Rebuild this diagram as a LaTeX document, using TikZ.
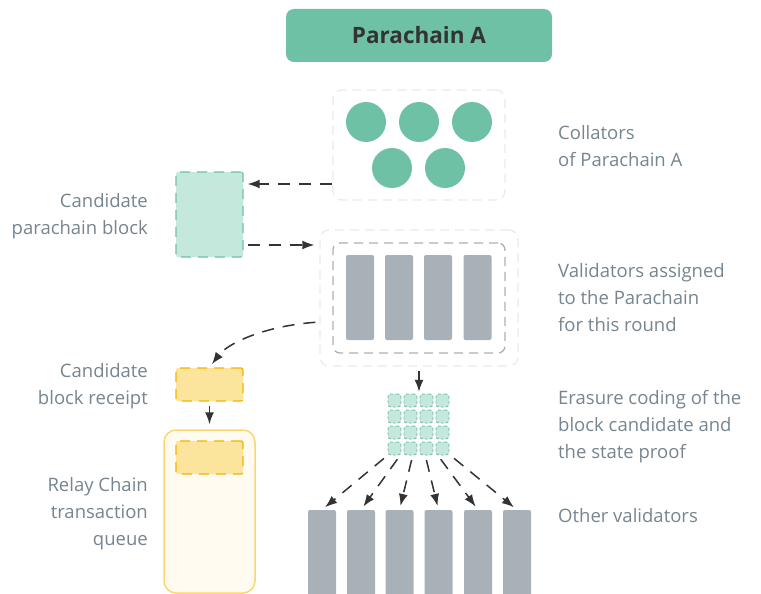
\documentclass[tikz,border=0pt]{standalone}
\usepackage{fontspec}
\setmainfont{Open Sans}
\usetikzlibrary{arrows.meta,calc}
\definecolor{paragreen}{HTML}{6FC1A6}
\definecolor{palegreen}{HTML}{C5E8DC}
\definecolor{bargrey}{HTML}{A9B1B8}
\definecolor{framegrey}{HTML}{E9EBED}
\definecolor{arrowgrey}{HTML}{333333}
\definecolor{labelgrey}{HTML}{76858F}
\definecolor{receiptfill}{HTML}{FBE49B}
\definecolor{receiptline}{HTML}{F4B400}
\definecolor{queuefill}{HTML}{FFFBF0}
\definecolor{queueline}{HTML}{FCD66E}
\tikzset{
  lbl/.style={font=\fontsize{18.5}{27}\selectfont, text=labelgrey, inner sep=0pt},
  flow/.style={draw=arrowgrey, line width=1.5pt, dash pattern=on 12pt off 9pt, -{Latex[length=12pt,width=9pt]}},
  frame/.style={draw=framegrey, line width=1.3pt, dash pattern=on 9pt off 6pt, rounded corners=9pt, inner sep=0pt},
  bar/.style={fill=bargrey, rounded corners=2pt, minimum width=28pt, minimum height=85pt, inner sep=0pt},
  collator/.style={circle, fill=paragreen, minimum size=40pt, inner sep=0pt},
  receiptbox/.style={fill=receiptfill, draw=receiptline, line width=1.3pt, dash pattern=on 10pt off 7pt, rounded corners=2pt, minimum width=67pt, minimum height=33pt, inner sep=0pt},
  piece/.style={fill=palegreen, draw=paragreen, line width=0.9pt, dash pattern=on 3pt off 2pt, rounded corners=3pt, minimum size=13pt, inner sep=0pt}
}
\begin{document}
\begin{tikzpicture}[x=1pt,y=-1pt]
\useasboundingbox[fill=white] (0,0) rectangle (761,594);
\node[fill=paragreen, rounded corners=8pt, minimum width=266pt, minimum height=53pt, text=arrowgrey, font=\fontsize{22.5}{26}\selectfont\bfseries] (title) at (419,35.5) {Parachain A};
\node[frame, minimum width=172pt, minimum height=110pt] (collators) at (419,145) {};
\foreach \x/\y [count=\i] in {366/122, 419/122, 472/122, 392/168, 445/168}
   \node[collator] (col\i) at (\x,\y) {};
\node[fill=palegreen, draw=paragreen, line width=1.3pt, dash pattern=on 10pt off 7pt, rounded corners=2pt, minimum width=67pt, minimum height=85pt, inner sep=0pt] (cand) at (209.5,214.5) {};
\node[frame, minimum width=198pt, minimum height=136pt] (valout) at (419,298) {};
\node[frame, draw=bargrey, rounded corners=7pt, minimum width=172pt, minimum height=110pt] (valin) at (419,298) {};
\foreach \x [count=\i] in {360,399,438,477.5}
   \node[bar] (bar\i) at (\x,297.5) {};
\coordinate (c1) at ([yshift=30.5pt]cand.east);
\coordinate (c2) at ([yshift=-30.5pt]cand.east);
\coordinate (c3) at ([yshift=-24pt]valout.west);
\draw[flow, shorten >=4pt] (collators.west |- c1) -- (c1);
\draw[flow, shorten <=4pt, shorten >=5pt] (c2) -- (valout.west |- c2);
\node[receiptbox] (receipt) at (209.5,384.5) {};
\draw[flow, shorten <=4pt, shorten >=4pt] (c3) .. controls (265,326) and (228,343) .. (receipt.north);
\node[fill=queuefill, draw=queueline, line width=1.5pt, rounded corners=12pt, minimum width=91pt, minimum height=163pt] (queue) at (209.5,511.5) {};
\node[receiptbox] (queued) at (209.5,457.5) {};
\draw[flow, shorten <=4pt, shorten >=5pt] (receipt.south) -- (queue.north);
\node[minimum width=62pt, minimum height=61pt, inner sep=0pt] (erasure) at (419,424.5) {};
\foreach \i in {0,1,2,3}
   \foreach \j in {0,1,2,3}
      \node[piece] (e\i\j) at (394.5+16*\i,400.5+16*\j) {};
\draw[flow, shorten <=4pt, shorten >=2pt] (valout.south) -- (erasure.north);
\foreach \x [count=\k] in {322,361,399.5,438.5,478,517}
   \node[bar, minimum height=92pt] (val\k) at (\x,556) {};
\foreach \k [evaluate=\k as \f using (\k-1)/5] in {1,...,6}
   \draw[flow, shorten <=5pt, shorten >=4pt] ($(erasure.south west)!\f!(erasure.south east)$) -- (val\k.north);
\node[lbl, anchor=base east, align=right] (candlbl) at (148,234) {Candidate\\parachain block};
\node[lbl, anchor=base east, align=right] (receiptlbl) at (148,404) {Candidate\\block receipt};
\node[lbl, anchor=base east, align=right] (queuelbl) at (148,545) {Relay Chain\\transaction\\queue};
\node[lbl, anchor=base west, align=left] (collbl) at (558,166) {Collators\\of Parachain A};
\node[lbl, anchor=base west, align=left] (vallbl) at (558,331) {Validators assigned\\to the Parachain\\for this round};
\node[lbl, anchor=base west, align=left] (eraslbl) at (558,458) {Erasure coding of the\\block candidate and\\the state proof};
\node[lbl, anchor=base west, align=left] (otherlbl) at (558,522) {Other validators};
\end{tikzpicture}
\end{document}
